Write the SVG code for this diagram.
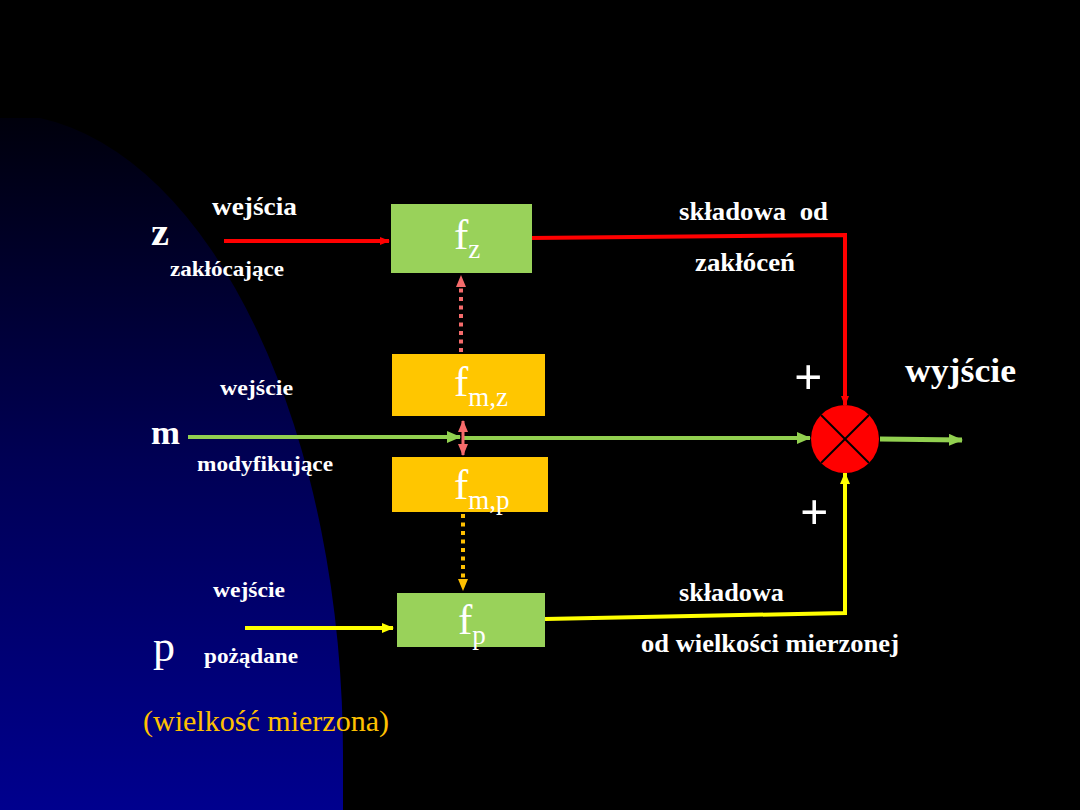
<svg xmlns="http://www.w3.org/2000/svg" width="1080" height="810" viewBox="0 0 1080 810">
<defs>
<linearGradient id="bg" x1="0" y1="118" x2="0" y2="810" gradientUnits="userSpaceOnUse">
<stop offset="0" stop-color="#00000c"/>
<stop offset="0.5" stop-color="#000055"/>
<stop offset="1" stop-color="#00008e"/>
</linearGradient>
<marker id="aRed" markerWidth="10" markerHeight="8" refX="9" refY="4" orient="auto" markerUnits="userSpaceOnUse"><path d="M0,0 L10,4 L0,8 Z" fill="#ff0000"/></marker>
<marker id="aGreen" markerWidth="14" markerHeight="12" refX="13" refY="6" orient="auto" markerUnits="userSpaceOnUse"><path d="M0,0 L14,6 L0,12 Z" fill="#92d050"/></marker>
<marker id="aYellow" markerWidth="12" markerHeight="10" refX="11" refY="5" orient="auto" markerUnits="userSpaceOnUse"><path d="M0,0 L12,5 L0,10 Z" fill="#ffff00"/></marker>
<marker id="aPink" markerWidth="12" markerHeight="10" refX="11" refY="5" orient="auto" markerUnits="userSpaceOnUse"><path d="M0,0 L12,5 L0,10 Z" fill="#f56b6b"/></marker>
<marker id="aPinkS" markerWidth="12" markerHeight="10" refX="1" refY="5" orient="auto" markerUnits="userSpaceOnUse"><path d="M12,0 L0,5 L12,10 Z" fill="#f56b6b"/></marker>
<marker id="aOrange" markerWidth="12" markerHeight="10" refX="11" refY="5" orient="auto" markerUnits="userSpaceOnUse"><path d="M0,0 L12,5 L0,10 Z" fill="#ffc000"/></marker>
</defs>
<style>
.lbl{font-family:"Liberation Serif","Times New Roman",serif;font-weight:bold;fill:#ffffff;}
.var{font-family:"Liberation Serif","Times New Roman",serif;fill:#ffffff;}
.fn{font-family:"Liberation Serif","Times New Roman",serif;fill:#ffffff;font-size:43px;}
.sub{font-size:27px;}
.green{fill:#99d25a;}
.orange{fill:#ffc600;}
</style>
<rect width="1080" height="810" fill="#000000"/>
<path d="M0,118 L40,118 A343,642 0 0 1 343,760 L343,810 L0,810 Z" fill="url(#bg)"/>

<g id="connectors" fill="none">
<line x1="224" y1="241" x2="389" y2="241" stroke="#ff0000" stroke-width="4" marker-end="url(#aRed)"/>
<polyline points="530,238 845,235 845,405" stroke="#ff0000" stroke-width="4" marker-end="url(#aRed)"/>
<line x1="188" y1="437" x2="460" y2="437" stroke="#92d050" stroke-width="4" marker-end="url(#aGreen)"/>
<line x1="463" y1="438" x2="810" y2="438" stroke="#92d050" stroke-width="4" marker-end="url(#aGreen)"/>
<line x1="880" y1="439" x2="962" y2="440" stroke="#92d050" stroke-width="5" marker-end="url(#aGreen)"/>
<line x1="245" y1="628" x2="393" y2="628" stroke="#ffff00" stroke-width="4" marker-end="url(#aYellow)"/>
<polyline points="545,619 845,613 845,473" stroke="#ffff00" stroke-width="4" marker-end="url(#aYellow)"/>
<line x1="461" y1="352" x2="461" y2="276" stroke="#f56b6b" stroke-width="4" stroke-dasharray="4,4.5" marker-end="url(#aPink)"/>
<line x1="463" y1="421" x2="463" y2="455" stroke="#f56b6b" stroke-width="3" marker-start="url(#aPinkS)" marker-end="url(#aPink)"/>
<line x1="463" y1="514" x2="463" y2="590" stroke="#ffc000" stroke-width="4" stroke-dasharray="4,4.5" marker-end="url(#aOrange)"/>
</g>

<g id="fz">
<rect class="green" x="391" y="204" width="141" height="69"/>
<text class="fn" x="454" y="249">f<tspan class="sub" dy="9">z</tspan></text>
</g>
<g id="fmz">
<rect class="orange" x="392" y="354" width="153" height="62"/>
<text class="fn" x="454" y="396">f<tspan class="sub" dy="10">m,z</tspan></text>
</g>
<g id="fmp">
<rect class="orange" x="392" y="457" width="156" height="55"/>
<text class="fn" x="454" y="499">f<tspan class="sub" dy="10">m,p</tspan></text>
</g>
<g id="fp">
<rect class="green" x="397" y="593" width="148" height="54"/>
<text class="fn" x="458" y="634">f<tspan class="sub" dy="10">p</tspan></text>
</g>
<g id="sum">
<circle cx="845" cy="439" r="34" fill="#ff0000"/>
<line x1="821" y1="415" x2="869" y2="463" stroke="#000000" stroke-width="2"/>
<line x1="869" y1="415" x2="821" y2="463" stroke="#000000" stroke-width="2"/>
</g>

<g id="labels">
<text class="lbl" x="151" y="245" font-size="38" textLength="18" lengthAdjust="spacingAndGlyphs">z</text>
<text class="lbl" x="212" y="215" font-size="26" textLength="85" lengthAdjust="spacingAndGlyphs">wejścia</text>
<text class="lbl" x="170" y="276" font-size="22" textLength="114" lengthAdjust="spacingAndGlyphs">zakłócające</text>
<text class="lbl" x="151" y="444" font-size="34" textLength="29" lengthAdjust="spacingAndGlyphs">m</text>
<text class="lbl" x="220" y="395" font-size="22" textLength="73" lengthAdjust="spacingAndGlyphs">wejście</text>
<text class="lbl" x="197" y="471" font-size="22" textLength="136" lengthAdjust="spacingAndGlyphs">modyfikujące</text>
<text class="var" x="153" y="661" font-size="44">p</text>
<text class="lbl" x="213" y="597" font-size="22" textLength="72" lengthAdjust="spacingAndGlyphs">wejście</text>
<text class="lbl" x="204" y="663" font-size="22" textLength="94" lengthAdjust="spacingAndGlyphs">pożądane</text>
<text x="143" y="731" font-family="Liberation Serif, Times New Roman, serif" font-size="30" fill="#ffc000" textLength="246" lengthAdjust="spacingAndGlyphs">(wielkość mierzona)</text>
<text class="lbl" x="679" y="220" font-size="25" xml:space="preserve" style="white-space:pre" textLength="149" lengthAdjust="spacingAndGlyphs">składowa  od</text>
<text class="lbl" x="695" y="271" font-size="25" textLength="100" lengthAdjust="spacingAndGlyphs">zakłóceń</text>
<text class="lbl" x="679" y="601" font-size="25" textLength="105" lengthAdjust="spacingAndGlyphs">składowa</text>
<text class="lbl" x="641" y="652" font-size="25" textLength="258" lengthAdjust="spacingAndGlyphs">od wielkości mierzonej</text>
<text class="lbl" x="905" y="382" font-size="34" textLength="111" lengthAdjust="spacingAndGlyphs">wyjście</text>
<text class="lbl" x="794" y="394" font-size="50">+</text>
<text class="lbl" x="800" y="529" font-size="50">+</text>
</g>
</svg>
